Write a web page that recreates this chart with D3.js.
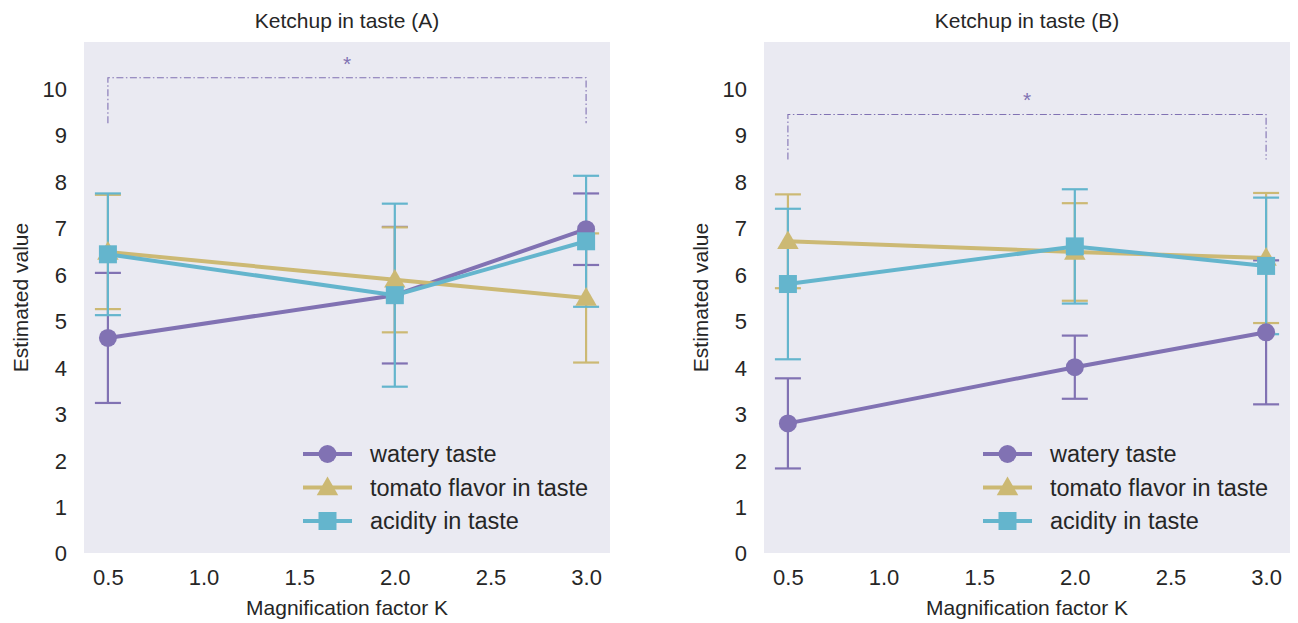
<!DOCTYPE html>
<html>
<head>
<meta charset="utf-8">
<script src="https://cdn.jsdelivr.net/npm/d3@7"></script>
<style>
  body { margin: 0; background: #fff; }
  svg text { font-family: "Liberation Sans", Arial, sans-serif; fill: #262626; }
</style>
</head>
<body>
<svg id="chart" width="1298" height="623"></svg>
<script>
// data
var xVals = [0.5, 2.0, 3.0];
var xTicks = [0.5, 1.0, 1.5, 2.0, 2.5, 3.0];
var yTicks = [0, 1, 2, 3, 4, 5, 6, 7, 8, 9, 10];
var seriesNames = ["watery taste", "tomato flavor in taste", "acidity in taste"];
var titles = ["Ketchup in taste (A)", "Ketchup in taste (B)"];

// panel A
var wateryA = [4.63, 5.55, 6.97], wateryErrA = [1.40, 1.47, 0.77];
var tomatoA = [6.48, 5.88, 5.49], tomatoErrA = [1.23, 1.13, 1.39];
var acidityA = [6.43, 5.55, 6.71], acidityErrA = [1.31, 1.97, 1.41];
// panel B
var wateryB = [2.79, 4.00, 4.75], wateryErrB = [0.97, 0.68, 1.55];
var tomatoB = [6.71, 6.48, 6.35], tomatoErrB = [1.01, 1.05, 1.40];
var acidityB = [5.79, 6.60, 6.18], acidityErrB = [1.62, 1.23, 1.47];

// significance bracket (top, bottom of the legs)
var bracketTop = [10.23, 9.44];
var bracketBottom = [9.25, 8.47];

var colors = ["#8172B3", "#CCB974", "#64B5CD"];
var shapes = ["circle", "triangle", "square"];

var svg = d3.select("#chart");

var panels = [
  { left: 84, title: titles[0], bt: bracketTop[0], bb: bracketBottom[0],
    series: [[wateryA, wateryErrA], [tomatoA, tomatoErrA], [acidityA, acidityErrA]] },
  { left: 764, title: titles[1], bt: bracketTop[1], bb: bracketBottom[1],
    series: [[wateryB, wateryErrB], [tomatoB, tomatoErrB], [acidityB, acidityErrB]] }
];

var plotW = 526, plotTop = 42, plotBottom = 553;

function drawMarker(g, shape, cx, cy, color) {
  if (shape == "circle") {
    g.append("circle").attr("cx", cx).attr("cy", cy).attr("r", 9).attr("fill", color);
  } else if (shape == "square") {
    g.append("rect").attr("x", cx - 9).attr("y", cy - 9)
      .attr("width", 18).attr("height", 18).attr("fill", color);
  } else {
    g.append("path")
      .attr("d", d3.symbol().type(d3.symbolTriangle).size(200)())
      .attr("transform", "translate(" + cx + "," + (cy + 1.5) + ")")
      .attr("fill", color);
  }
}

panels.forEach(function (p) {
  var x = d3.scaleLinear().domain([0.375, 3.125]).range([p.left, p.left + plotW]);
  var y = d3.scaleLinear().domain([0, 11]).range([plotBottom, plotTop]);
  var g = svg.append("g");

  g.append("rect")
    .attr("x", p.left).attr("y", plotTop)
    .attr("width", plotW).attr("height", plotBottom - plotTop)
    .attr("fill", "#EAEAF2");

  // axes (no lines, only labels)
  var xAxis = g.append("g").attr("transform", "translate(0," + plotBottom + ")")
    .call(d3.axisBottom(x).tickValues(xTicks).tickFormat(d3.format(".1f")).tickSize(0).tickPadding(16));
  var yAxis = g.append("g").attr("transform", "translate(" + p.left + ",0)")
    .call(d3.axisLeft(y).tickValues(yTicks).tickSize(0).tickPadding(17));
  [xAxis, yAxis].forEach(function (a) {
    a.select(".domain").remove();
    a.selectAll("text").attr("font-size", 22).attr("fill", "#262626")
      .attr("font-family", "Liberation Sans, Arial, sans-serif");
  });
  yAxis.selectAll("text").attr("dy", "0.36em");

  g.append("text")
    .attr("x", p.left + plotW / 2).attr("y", 20)
    .attr("text-anchor", "middle").attr("dominant-baseline", "central")
    .attr("font-size", 21)
    .text(p.title);
  g.append("text")
    .attr("x", p.left + plotW / 2).attr("y", 607)
    .attr("text-anchor", "middle").attr("dominant-baseline", "central")
    .attr("font-size", 21)
    .text("Magnification factor K");
  g.append("text")
    .attr("transform", "translate(" + (p.left - 64) + "," + ((plotTop + plotBottom) / 2) + ") rotate(-90)")
    .attr("text-anchor", "middle").attr("dominant-baseline", "central")
    .attr("font-size", 21)
    .text("Estimated value");

  // significance bracket
  var bx0 = x(xVals[0]), bx1 = x(xVals[2]);
  g.append("path")
    .attr("d", "M" + bx0 + "," + y(p.bb) + "V" + y(p.bt) + "H" + bx1 + "V" + y(p.bb))
    .attr("fill", "none").attr("stroke", colors[0]).attr("stroke-width", 1.1)
    .attr("stroke-dasharray", "7,2.5,1.5,2.5");
  g.append("text")
    .attr("x", (bx0 + bx1) / 2).attr("y", y(p.bt) - 7)
    .attr("text-anchor", "middle")
    .attr("font-size", 21).style("fill", colors[0])
    .text("*");

  // error bars first
  p.series.forEach(function (s, i) {
    var vals = s[0], errs = s[1];
    vals.forEach(function (v, j) {
      var cx = x(xVals[j]);
      g.append("line")
        .attr("x1", cx).attr("x2", cx)
        .attr("y1", y(v - errs[j])).attr("y2", y(v + errs[j]))
        .attr("stroke", colors[i]).attr("stroke-width", 2.2);
      [v - errs[j], v + errs[j]].forEach(function (e) {
        g.append("line")
          .attr("x1", cx - 13).attr("x2", cx + 13)
          .attr("y1", y(e)).attr("y2", y(e))
          .attr("stroke", colors[i]).attr("stroke-width", 2.2);
      });
    });
  });

  // lines and markers
  var line = d3.line()
    .x(function (d, j) { return x(xVals[j]); })
    .y(function (d) { return y(d); });
  p.series.forEach(function (s, i) {
    g.append("path")
      .attr("d", line(s[0]))
      .attr("fill", "none").attr("stroke", colors[i]).attr("stroke-width", 4);
    s[0].forEach(function (v, j) {
      drawMarker(g, shapes[i], x(xVals[j]), y(v), colors[i]);
    });
  });

  // legend
  var lx = p.left + plotW - 307;
  seriesNames.forEach(function (name, i) {
    var ly = 454 + i * 33.5;
    g.append("line")
      .attr("x1", lx).attr("x2", lx + 49)
      .attr("y1", ly).attr("y2", ly)
      .attr("stroke", colors[i]).attr("stroke-width", 4);
    drawMarker(g, shapes[i], lx + 24.5, ly, colors[i]);
    g.append("text")
      .attr("x", lx + 67).attr("y", ly)
      .attr("dominant-baseline", "central")
      .attr("font-size", 23.5)
      .text(name);
  });
});
</script>
</body>
</html>
